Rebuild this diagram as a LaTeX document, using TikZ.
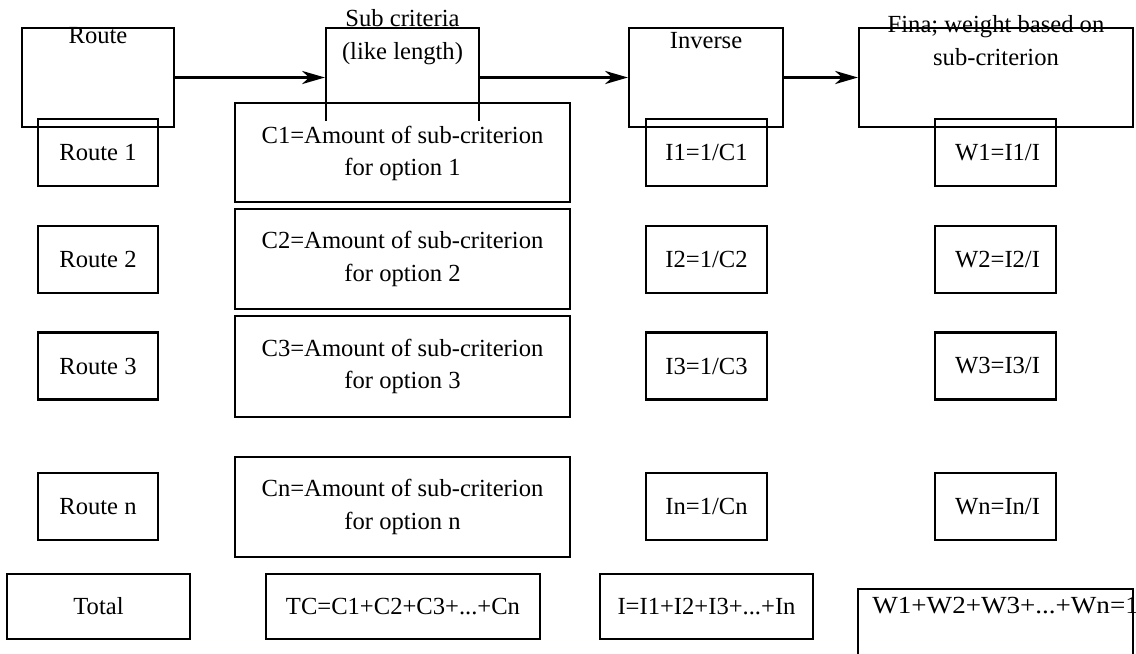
\documentclass[tikz,border=0pt]{standalone}
\usepackage{fontspec}
\setmainfont{Liberation Serif}
\usetikzlibrary{arrows.meta}

\begin{document}
\begin{tikzpicture}[x=0.02cm, y=-0.02cm,
  font=\fontsize{14}{18.7}\selectfont,
  box/.style={draw, line width=1.3pt, minimum width=#1, minimum height=1.34cm, inner sep=0pt},
  cbox/.style={draw, line width=1.3pt, minimum width=6.7cm, minimum height=2cm, inner sep=0pt, align=center},
  hbox/.style={draw, line width=1.3pt, minimum width=#1, minimum height=1.98cm, inner sep=0pt},
  htext/.style={align=center, inner sep=0pt},
  arr/.style={line width=1.3pt, -{Stealth[length=13pt, width=7.5pt, inset=4pt]}}]
\useasboundingbox (0,0) rectangle (1136,653);
\clip (0,0) rectangle (1136,653);
% header boxes
\node[hbox=3.04cm] (route) at (98,77.5) {};
\node[hbox=3.06cm] (sub) at (402.5,77.5) {};
\node[hbox=3.08cm] (inv) at (706,77.5) {};
\node[hbox=5.48cm] (fin) at (996,77.5) {};
\node[htext] (routet) at ([yshift=-0.18cm]route.north) {Route};
\node[htext] (subt) at ([yshift=-0.21cm]sub.north) {Sub criteria\\(like length)};
\node[htext] (invt) at ([yshift=-0.28cm]inv.north) {Inverse};
\node[htext] (fint) at ([yshift=-0.27cm]fin.north) {Fina; weight based on\\sub-criterion};
\draw[arr] (route.east) -- (sub.west);
\draw[arr] (sub.east) -- (inv.west);
\draw[arr] (inv.east) -- (fin.west);
% routes
\node[box=2.4cm] (r1) at (98,152.5) {Route 1};
\node[box=2.4cm] (r2) at (98,259.5) {Route 2};
\node[box=2.4cm] (r3) at (98,366) {Route 3};
\node[box=2.4cm] (rn) at (98,506.5) {Route n};
\node[box=3.66cm, minimum height=1.3cm] (rt) at (98.5,606.5) {Total};
% amounts
\node[cbox, minimum height=1.98cm] (c1) at (402.5,152.5) {};
\node[fill=white, align=center, inner xsep=1pt, inner ysep=3pt] (c1t) at (402.5,153.5) {C1=Amount of sub-criterion\\for option 1};
\node[cbox] (c2) at (402.5,259) {C2=Amount of sub-criterion\\for option 2};
\node[cbox, minimum height=2.02cm] (c3) at (402.5,366.5) {C3=Amount of sub-criterion\\for option 3};
\node[cbox] (cn) at (402.5,507) {Cn=Amount of sub-criterion\\for option n};
\node[box=5.48cm, minimum height=1.3cm] (ct) at (403,606.5) {TC=C1+C2+C3+...+Cn};
% inverses
\node[box=2.42cm] (i1) at (706.5,152.5) {I1=1/C1};
\node[box=2.42cm] (i2) at (706.5,259.5) {I2=1/C2};
\node[box=2.42cm] (i3) at (706.5,366) {I3=1/C3};
\node[box=2.42cm] (in) at (706.5,506.5) {In=1/Cn};
\node[box=4.26cm, minimum height=1.3cm] (it) at (706.5,606.5) {I=I1+I2+I3+...+In};
% weights
\node[box=2.42cm] (w1) at (995.5,152.5) {\,W1=I1/I};
\node[box=2.42cm] (w2) at (995.5,259.5) {\,W2=I2/I};
\node[box=2.42cm] (w3) at (995.5,366) {\,W3=I3/I};
\node[box=2.42cm] (wn) at (995.5,506.5) {\,Wn=In/I};
\node[anchor=west, inner sep=0pt, xscale=1.1, transform shape] (wtt) at (872,606) {W1+W2+W3+...+Wn=1};
\node[draw, line width=1.3pt, minimum width=5.5cm, minimum height=1.9cm] (wt) at (995.5,636.5) {};
\end{tikzpicture}
\end{document}
